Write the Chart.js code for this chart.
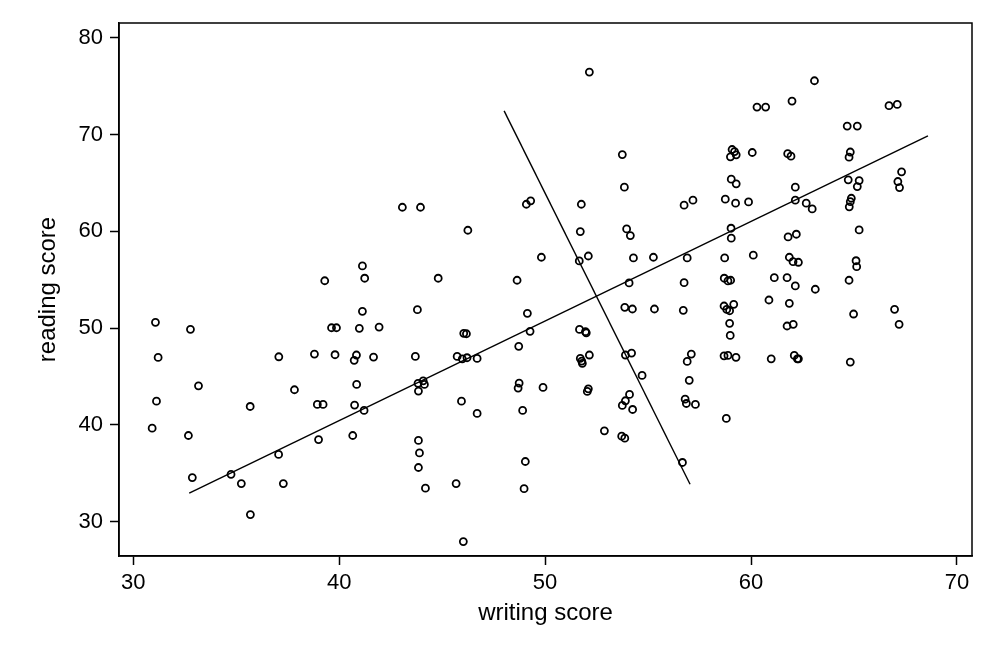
<!DOCTYPE html>
<html lang="en">
<head>
  <meta charset="UTF-8">
  <title>reading score vs writing score</title>
  <style>
    body { margin: 0; background: #fff; }
    canvas { display: block; }
  </style>
</head>
<body>
  <canvas id="chart" width="996" height="664"></canvas>
  <script src="https://cdn.jsdelivr.net/npm/chart.js"></script>
  <script>
    // jittered scatter
    const writing = [
      39.30,
      43.07, 43.95, 46.25, 41.13, 41.24, 44.81, 48.64, 49.82, 49.09, 49.30,
      52.15, 60.29, 53.75, 53.85, 51.76, 51.71, 52.10, 51.66, 53.96, 54.14,
      54.29, 55.26, 56.90, 56.75, 57.18, 54.08, 56.75, 58.72, 60.11, 58.70,
      58.88, 59.01, 59.03, 59.04, 58.75, 59.25, 59.88, 59.04, 59.28, 59.08,
      59.20, 59.28, 59.00, 60.06,
      60.71, 63.08, 61.99, 66.70, 67.10, 64.67, 65.16, 61.78, 61.94, 64.82,
      64.76, 67.31, 67.13, 67.21, 64.72, 65.25, 65.16, 62.15, 62.15, 62.68,
      62.97, 64.87, 64.82, 64.77, 65.25, 61.80, 62.20, 61.86, 62.04, 62.30,
      65.10, 65.13, 61.13, 61.75, 62.15, 63.12, 64.76,
      60.87, 61.86, 64.98, 66.97, 67.19, 61.75, 62.05, 60.98, 62.10, 62.25,
      62.30, 64.82,
      53.87, 54.24, 55.31, 56.71, 58.69, 59.16, 58.82, 58.96, 58.96, 58.99,
      51.67, 51.96, 52.00, 51.71, 51.78, 51.81, 52.15, 52.10, 52.05, 53.90,
      54.20, 54.71, 54.10, 53.90, 53.75, 54.25, 52.88, 53.72, 53.87, 57.10,
      56.90, 57.00, 56.80, 56.86, 57.30, 56.67, 58.69, 58.88, 59.27, 58.80,
      39.87, 39.80, 41.13, 40.98, 41.94, 40.84, 40.73, 41.67, 40.85, 40.75,
      41.21, 40.66, 43.80, 43.70, 43.83, 44.08, 44.14, 43.85, 43.85, 43.90,
      43.85, 44.19, 46.05, 46.18, 45.73, 45.98, 46.21, 46.70, 45.94, 46.70,
      45.68, 46.03, 49.14, 49.27, 48.72, 48.74, 48.69, 49.90, 48.91, 49.04,
      48.98,
      31.08, 32.78, 31.21, 37.07, 38.80, 39.63, 33.17, 37.83, 31.13, 35.68,
      38.94, 39.22, 30.92, 32.68, 39.00, 37.06, 32.87, 34.75, 35.25, 37.29,
      35.69
    ];
    const reading = [
      54.90,
      62.50, 62.50, 60.12, 56.43, 55.16, 55.16, 54.95, 57.33, 62.81, 63.16,
      76.48, 72.86, 67.95, 64.58, 62.81, 59.98, 57.46, 56.95, 60.26, 59.57,
      57.26, 57.33, 57.26, 62.71, 63.23, 54.67, 54.70, 57.26, 57.54, 55.16,
      54.88, 54.95, 60.33, 59.30, 63.33, 62.92, 63.05, 65.40, 64.92, 68.47,
      68.26, 67.92, 67.71, 68.16,
      72.86, 75.58, 73.48, 73.00, 73.13, 70.89, 70.89, 68.04, 67.78, 68.21,
      67.68, 66.16, 65.16, 64.53, 65.34, 65.26, 64.64, 64.58, 63.23, 62.92,
      62.33, 63.43, 63.08, 62.54, 60.15, 59.43, 59.71, 57.33, 56.87, 56.81,
      56.97, 56.35, 55.22, 55.22, 54.36, 54.02, 54.95,
      52.91, 52.57, 51.46, 51.95, 50.39, 50.22, 50.39, 46.83, 47.18, 46.83,
      46.83, 46.49,
      52.15, 51.98, 51.98, 51.84, 52.29, 52.46, 51.94, 51.80, 50.50, 49.25,
      49.87, 49.63, 49.52, 46.87, 46.59, 46.36, 47.22, 43.73, 43.46, 47.22,
      47.42, 45.11, 43.15, 42.49, 42.01, 41.59, 39.38, 38.83, 38.62, 47.32,
      46.56, 44.60, 42.66, 42.21, 42.11, 36.11, 47.14, 47.18, 46.98, 40.66,
      50.04, 47.25, 51.74, 49.98, 50.11, 47.22, 46.67, 47.01, 44.18, 42.04,
      41.49, 38.90, 51.91, 47.08, 44.29, 44.55, 44.18, 43.49, 38.39, 37.10,
      35.59, 33.45, 49.46, 49.42, 47.08, 46.83, 46.94, 46.87, 42.45, 41.18,
      33.93, 27.93, 51.53, 49.67, 48.12, 44.32, 43.80, 43.87, 41.49, 36.21,
      33.40,
      50.60, 49.88, 46.97, 47.04, 47.32, 50.04, 44.04, 43.63, 42.45, 41.90,
      42.11, 42.11, 39.66, 38.90, 38.48, 36.94, 34.55, 34.89, 33.93, 33.93,
      30.72
    ];

    // the two straight lines, end points
    const fitX = [32.72, 68.59];
    const fitY = [32.93, 69.89];
    const crossX = [48.01, 57.04];
    const crossY = [72.47, 33.86];

    const xTicks = [30, 40, 50, 60, 70];
    const yTicks = [30, 40, 50, 60, 70, 80];

    const font = 'Liberation Sans, Arial, Helvetica, sans-serif';

    const frame = {
      id: 'frame',
      afterDraw(chart) {
        const { ctx, chartArea: a } = chart;
        ctx.save();
        ctx.strokeStyle = '#000';
        ctx.lineWidth = 1.5;
        ctx.strokeRect(a.left, a.top, a.right - a.left, a.bottom - a.top);
        ctx.restore();
      }
    };

    const toPoints = (xs, ys) => xs.map((x, i) => ({ x: x, y: ys[i] }));

    new Chart(document.getElementById('chart'), {
      type: 'scatter',
      data: {
        datasets: [{
          data: toPoints(writing, reading),
          pointStyle: 'circle',
          pointRadius: 3.5,
          pointBorderWidth: 1.8,
          pointBorderColor: '#000',
          pointBackgroundColor: 'rgba(0,0,0,0)',
          showLine: false
        }, {
          data: toPoints(fitX, fitY),
          showLine: true,
          borderColor: '#000',
          borderWidth: 1.4,
          pointRadius: 0
        }, {
          data: toPoints(crossX, crossY),
          showLine: true,
          borderColor: '#000',
          borderWidth: 1.4,
          pointRadius: 0
        }]
      },
      options: {
        responsive: false,
        animation: false,
        layout: { padding: { top: 23, right: 24, bottom: 0, left: 0 } },
        plugins: {
          legend: { display: false },
          tooltip: { enabled: false }
        },
        scales: {
          x: {
            type: 'linear',
            min: 29.31,
            max: 70.73,
            afterBuildTicks: s => { s.ticks = xTicks.map(v => ({ value: v })); },
            afterFit: s => { s.height = 108; },
            grid: { drawOnChartArea: false, drawTicks: true, tickLength: 9, tickColor: '#000', tickWidth: 1.5 },
            border: { display: true, color: '#000', width: 1.5 },
            ticks: { color: '#000', padding: 5, font: { family: font, size: 22 } },
            title: {
              display: true,
              text: 'writing score',
              color: '#000',
              padding: { top: 0, bottom: 36 },
              font: { family: font, size: 24 }
            }
          },
          y: {
            type: 'linear',
            min: 26.44,
            max: 81.55,
            afterBuildTicks: s => { s.ticks = yTicks.map(v => ({ value: v })); },
            afterFit: s => { s.width = 119; },
            grid: { drawOnChartArea: false, drawTicks: true, tickLength: 9, tickColor: '#000', tickWidth: 1.5 },
            border: { display: true, color: '#000', width: 1.5 },
            ticks: { color: '#000', padding: 7, font: { family: font, size: 22 } },
            title: {
              display: true,
              text: 'reading score',
              color: '#000',
              padding: { top: 34, bottom: 0 },
              font: { family: font, size: 24 }
            }
          }
        }
      },
      plugins: [frame]
    });
  </script>
</body>
</html>
